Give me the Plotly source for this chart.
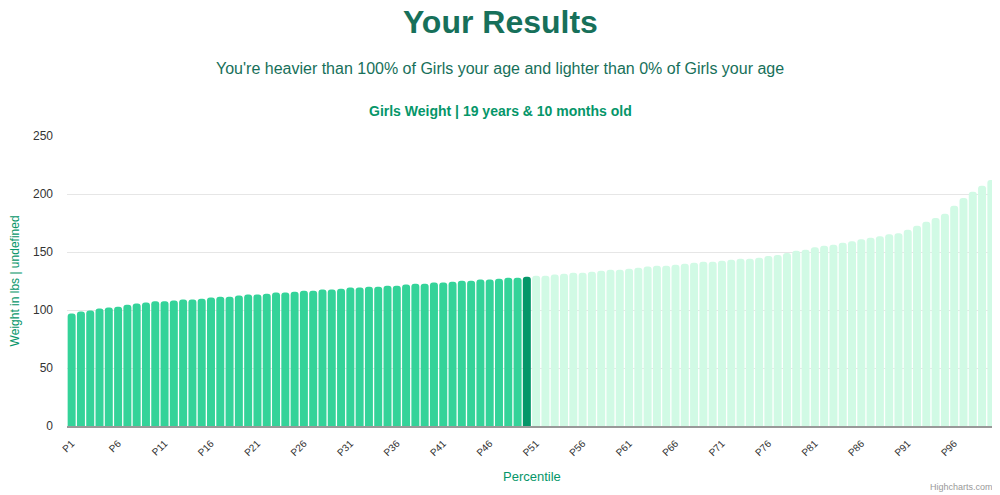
import plotly.graph_objects as go

# ---- data ----
percentiles = [f"P{i}" for i in range(1, 101)]
weights = [
    96.9, 98.6, 99.5, 101.2, 102.1, 102.9, 104.6, 105.5, 106.4, 107.6,
    107.6, 108.1, 109.0, 109.0, 109.8, 110.7, 111.5, 111.5, 112.4, 113.3,
    113.3, 114.1, 115.0, 115.0, 115.8, 116.7, 116.7, 117.6, 117.6, 118.4,
    119.3, 119.3, 120.1, 120.1, 121.0, 121.0, 121.9, 122.7, 122.7, 123.6,
    123.6, 124.4, 125.3, 125.3, 126.2, 126.2, 127.0, 127.9, 127.9, 128.7,
    129.6, 129.6, 130.5, 131.3, 132.2, 132.2, 133.0, 133.9, 134.8, 134.8,
    135.6, 136.5, 137.4, 138.2, 138.2, 139.1, 139.9, 140.8, 141.7, 141.7,
    142.5, 143.4, 144.2, 144.2, 145.1, 146.6, 147.5, 149.1, 151.1, 152.0,
    154.0, 155.4, 156.3, 158.0, 159.2, 160.9, 162.3, 163.5, 165.2, 166.1,
    169.2, 172.6, 176.1, 179.3, 183.0, 189.8, 196.5, 201.9, 207.1, 212.0,
]
highlight_label = "P50"
tick_labels = [f"P{i}" for i in range(1, 100, 5)]
y_ticks = [0, 50, 100, 150, 200, 250]

# ---- styles ----
C_BELOW = "#34d399"
C_HIGHLIGHT = "#059669"
C_ABOVE = "#d1fae5"
hi = percentiles.index(highlight_label)
colors = [C_BELOW if i < hi else (C_HIGHLIGHT if i == hi else C_ABOVE)
          for i in range(len(percentiles))]

FONT = "Liberation Sans, Arial, sans-serif"
OFF = 8  # default page body margin
W, H = 1000 - OFF, 495 - OFF
# plot area in reference (window) pixels
PX0, PX1, PY0, PY1 = 66.6, 995.6, 135.7, 426.3
L, R, T, B = PX0 - OFF, W - (PX1 - OFF), PY0 - OFF, H - (PY1 - OFF)
ph = PY1 - PY0
pw = PX1 - PX0


def py(p):
    return (PY1 - p) / ph


def px(p):
    return (p - PX0) / pw


fig = go.Figure(go.Bar(
    x=percentiles, y=weights,
    marker=dict(color=colors, line=dict(width=0)),
    hoverinfo="x+y",
))

fig.update_layout(
    width=W, height=H,
    margin=dict(l=L, r=R, t=T, b=B, autoexpand=False),
    paper_bgcolor="white", plot_bgcolor="white",
    font=dict(family=FONT, color="#333333"),
    showlegend=False,
    bargap=0.14,
    barcornerradius=3,
    title=dict(text="<b>Your Results</b>", x=px(500), xref="paper", xanchor="center",
               y=1 - (22 - OFF) / H, yref="container", yanchor="middle",
               font=dict(size=32, color="#17705a", family=FONT)),
    xaxis=dict(
        type="category",
        tickmode="array", tickvals=tick_labels, ticktext=tick_labels,
        tickangle=-45, tickfont=dict(size=10, color="#333333"),
        showgrid=False, showline=True, linecolor="#999999", linewidth=1.5,
        ticks="", zeroline=False, ticklabelstandoff=6,
        range=[-0.5, len(percentiles) - 0.5],
    ),
    yaxis=dict(
        range=[0, 250], tickmode="array", tickvals=y_ticks,
        tickfont=dict(size=12, color="#333333"),
        showgrid=True, gridcolor="#e6e6e6", gridwidth=1,
        zeroline=False, showline=False, ticks="", ticklabelstandoff=13,
    ),
    annotations=[
        dict(text="You're heavier than 100% of Girls your age and lighter than 0% of Girls your age",
             x=px(500), xref="paper", xanchor="center", y=py(68), yref="paper", yanchor="middle",
             showarrow=False, font=dict(size=16, color="#17705a", family=FONT)),
        dict(text="<b>Girls Weight | 19 years &amp; 10 months old</b>",
             x=px(500), xref="paper", xanchor="center", y=py(111), yref="paper", yanchor="middle",
             showarrow=False, font=dict(size=14, color="#059669", family=FONT)),
        dict(text="Weight in lbs | undefined", textangle=-90,
             x=px(15), xref="paper", xanchor="center", y=py(281), yref="paper", yanchor="middle",
             showarrow=False, font=dict(size=12, color="#059669", family=FONT)),
        dict(text="Percentile",
             x=0.5, xref="paper", xanchor="center", y=py(477), yref="paper", yanchor="middle",
             showarrow=False, font=dict(size=13, color="#059669", family=FONT)),
        dict(text="Highcharts.com",
             x=px(995), xref="paper", xanchor="right", y=py(487), yref="paper", yanchor="middle",
             showarrow=False, font=dict(size=9, color="#999999", family=FONT)),
    ],
)

fig.write_html("out.html")
